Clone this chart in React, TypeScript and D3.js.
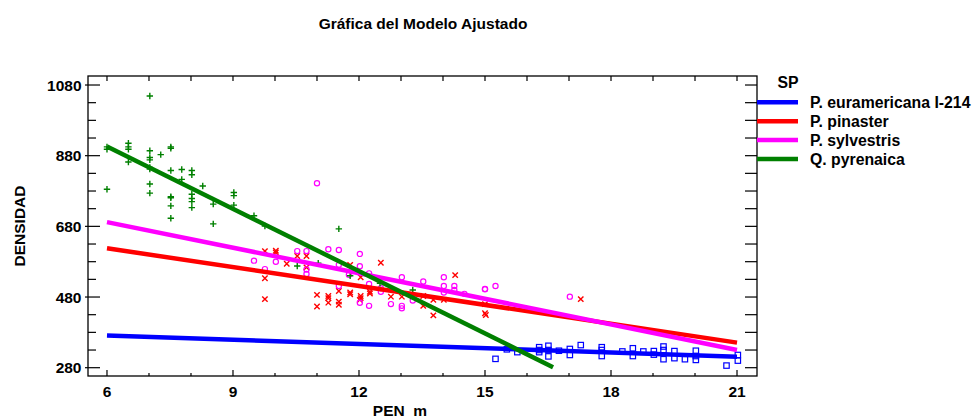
import React from "react";
import * as d3 from "d3";

// ---------- data ----------
const species = ["P. euramericana I-214", "P. pinaster", "P. sylvestris", "Q. pyrenaica"];
const colors = ["#0000FF", "#FF0000", "#FF00FF", "#008000"];
const markers = ["square", "x", "circle", "plus"];

// fitted lines: intercept, slope, x range
const fitIntercept = [395, 724.8, 836.8, 1258.8];
const fitSlope = [-4.0, -17.8, -24.13, -58.8];
const fitXMin = [6, 6, 6, 6];
const fitXMax = [21, 21, 21, 16.62];

const euramericana: [number, number][] = [
  [15.25, 305], [15.52, 332], [15.77, 324], [16.29, 338], [16.29, 330], [16.29, 324],
  [16.51, 342], [16.51, 330], [16.51, 312], [16.76, 328], [17.02, 333], [17.02, 316],
  [17.28, 344], [17.78, 338], [17.78, 330], [17.78, 313], [18.27, 326], [18.52, 335],
  [18.52, 313], [18.77, 326], [19.02, 327], [19.02, 317], [19.25, 340], [19.25, 330],
  [19.25, 304], [19.51, 327], [19.51, 307], [19.76, 304], [20.02, 328], [20.02, 313],
  [20.02, 302], [20.75, 286], [21.02, 316], [21.02, 300],
];

const pinaster: [number, number][] = [
  [9.76, 610], [9.76, 533], [9.76, 474], [10.02, 611], [10.02, 606], [10.28, 574],
  [10.53, 596], [10.75, 596], [10.75, 564], [11.0, 486], [11.0, 453], [11.27, 483],
  [11.27, 477], [11.27, 464], [11.52, 497], [11.52, 467], [11.52, 458], [11.79, 493],
  [11.79, 488], [11.79, 571], [12.04, 483], [12.04, 477], [12.04, 536], [12.02, 472],
  [12.26, 495], [12.26, 490], [12.52, 577], [12.76, 481], [13.02, 481], [13.53, 483],
  [13.53, 455], [13.77, 472], [13.77, 428], [14.02, 472], [14.29, 542], [15.0, 460],
  [15.0, 434], [15.02, 429], [17.28, 474],
];

const sylvestris: [number, number][] = [
  [9.5, 583], [9.76, 559], [10.02, 580], [10.53, 610], [10.75, 610], [10.75, 558],
  [10.75, 545], [11.0, 802], [11.27, 615], [11.52, 613], [11.52, 571], [11.52, 511],
  [11.76, 543], [12.02, 602], [12.02, 567], [12.02, 464], [12.24, 547], [12.24, 517],
  [12.24, 455], [12.52, 505], [12.52, 495], [12.76, 460], [13.02, 536], [13.02, 455],
  [13.02, 448], [13.28, 470], [13.53, 524], [14.02, 536], [14.02, 511], [14.02, 493],
  [14.27, 511], [14.27, 500], [14.51, 489], [15.0, 502], [15.0, 503], [15.25, 511],
  [17.02, 481],
];

const pyrenaica: [number, number][] = [
  [6.0, 905], [6.0, 898], [6.0, 785], [6.51, 915], [6.51, 905], [6.51, 898], [6.51, 862],
  [7.02, 1049], [7.02, 894], [7.02, 875], [7.02, 868], [7.02, 847], [7.02, 842],
  [7.02, 800], [7.02, 774], [7.28, 883], [7.52, 905], [7.52, 901], [7.52, 838],
  [7.52, 764], [7.52, 761], [7.52, 738], [7.52, 703], [7.78, 841], [7.78, 813],
  [8.02, 838], [8.02, 826], [8.02, 771], [8.02, 759], [8.02, 750], [8.02, 733],
  [8.28, 794], [8.53, 743], [8.53, 687], [9.02, 776], [9.02, 767], [9.02, 740],
  [9.5, 710], [9.76, 681], [10.53, 568], [11.03, 576], [11.52, 673], [11.79, 540],
  [12.5, 519], [13.28, 500],
];

const seriesPoints = [euramericana, pinaster, sylvestris, pyrenaica];

const xTicks = [6, 9, 12, 15, 18, 21];
const yTicks = [280, 480, 680, 880, 1080];
const title = "Gráfica del Modelo Ajustado";
const xLabel = "PEN  m";
const yLabel = "DENSIDAD";
const legendTitle = "SP";

// ---------- layout ----------
const W = 974;
const H = 419;
const L = 88, R = 757, T = 76, B = 376;
const FONT = "'Liberation Sans', Arial, Helvetica, sans-serif";
const FS = 15.5;
const FS_LEG = 15.8;

const x = d3.scaleLinear().domain([5.548, 21.476]).range([L, R]);
const y = d3.scaleLinear().domain([256.5, 1105.5]).range([B, T]);

function Marker({ kind, cx, cy, color }: { kind: string; cx: number; cy: number; color: string }) {
  const s = 2.7;
  if (kind === "square")
    return <rect x={cx - s} y={cy - s} width={2 * s} height={2 * s} fill="none" stroke={color} strokeWidth={1.2} />;
  if (kind === "circle")
    return <circle cx={cx} cy={cy} r={2.6} fill="none" stroke={color} strokeWidth={1.2} />;
  if (kind === "x")
    return (
      <path d={`M${cx - s},${cy - s}L${cx + s},${cy + s}M${cx - s},${cy + s}L${cx + s},${cy - s}`} stroke={color} strokeWidth={1.4} />
    );
  return (
    <path d={`M${cx - 3.2},${cy}L${cx + 3.2},${cy}M${cx},${cy - 3.2}L${cx},${cy + 3.2}`} stroke={color} strokeWidth={1.4} />
  );
}

export default function App() {
  const line = d3
    .line<number>()
    .x((d) => d[0])
    .y((d) => d[1]);

  const xMinor = d3.range(6, 22, 1);
  const yMinor = d3.range(280, 1081, 50);

  return (
    <svg
      width={W}
      height={H}
      style={{ position: "absolute", left: 0, top: 0, background: "#fff" }}
      fontFamily={FONT}
    >
      <rect x={0} y={0} width={W} height={H} fill="#fff" />
      {/* title */}
      <text x={423} y={29} textAnchor="middle" fontSize={FS} fontWeight="bold">
        {title}
      </text>

      {/* points */}
      {seriesPoints.map((pts, si) => (
        <g key={si}>
          {pts.map((p, i) => (
            <Marker key={i} kind={markers[si]} cx={x(p[0])} cy={y(p[1])} color={colors[si]} />
          ))}
        </g>
      ))}

      {/* fitted lines */}
      {species.map((s, si) => {
        const x0 = fitXMin[si], x1 = fitXMax[si];
        const pts: any = [
          [x(x0), y(fitIntercept[si] + fitSlope[si] * x0)],
          [x(x1), y(fitIntercept[si] + fitSlope[si] * x1)],
        ];
        return <path key={s} d={line(pts) || ""} stroke={colors[si]} strokeWidth={4.5} fill="none" />;
      })}

      {/* frame */}
      <rect x={L} y={T} width={R - L} height={B - T} fill="none" stroke="#000" strokeWidth={1.3} />

      {/* left / right axis ticks */}
      {yMinor.map((v) => {
        const major = yTicks.includes(v);
        return (
          <g key={"yl" + v}>
            <line x1={major ? L - 3 : L} x2={L + (major ? 12 : 8)} y1={y(v)} y2={y(v)} stroke="#000" strokeWidth={1.2} />
            <line x1={R} x2={R - 12} y1={y(v)} y2={y(v)} stroke="#000" strokeWidth={1.2} />
          </g>
        );
      })}
      {yTicks.map((v) => (
        <text key={"yt" + v} x={81.5} y={y(v) + 5.5} textAnchor="end" fontSize={FS} fontWeight="bold">
          {v}
        </text>
      ))}

      {/* bottom / top ticks */}
      {xMinor.map((v) => {
        const major = xTicks.includes(v);
        return (
          <g key={"xb" + v}>
            <line x1={x(v)} x2={x(v)} y1={B} y2={B - (major ? 6 : 3)} stroke="#000" strokeWidth={1.2} />
            <line x1={x(v)} x2={x(v)} y1={T} y2={T + 5} stroke="#000" strokeWidth={1.2} />
          </g>
        );
      })}
      {xTicks.map((v) => (
        <text key={"xt" + v} x={x(v)} y={397} textAnchor="middle" fontSize={FS} fontWeight="bold">
          {v}
        </text>
      ))}

      {/* axis titles */}
      <text x={400} y={416} textAnchor="middle" fontSize={FS} fontWeight="bold" style={{ whiteSpace: "pre" }}>
        {xLabel}
      </text>
      <text
        transform={`translate(25,226) rotate(-90)`}
        textAnchor="middle"
        fontSize={FS}
        fontWeight="bold"
      >
        {yLabel}
      </text>

      {/* legend */}
      <text x={788} y={88} textAnchor="middle" fontSize={FS_LEG} fontWeight="bold">
        {legendTitle}
      </text>
      {species.map((s, si) => {
        const ly = 102.3 + si * 18.9;
        return (
          <g key={"lg" + s}>
            <line x1={757} x2={798} y1={ly} y2={ly} stroke={colors[si]} strokeWidth={4.5} />
            <text x={810} y={ly + 5.5} fontSize={FS_LEG} fontWeight="bold">
              {s}
            </text>
          </g>
        );
      })}
    </svg>
  );
}
